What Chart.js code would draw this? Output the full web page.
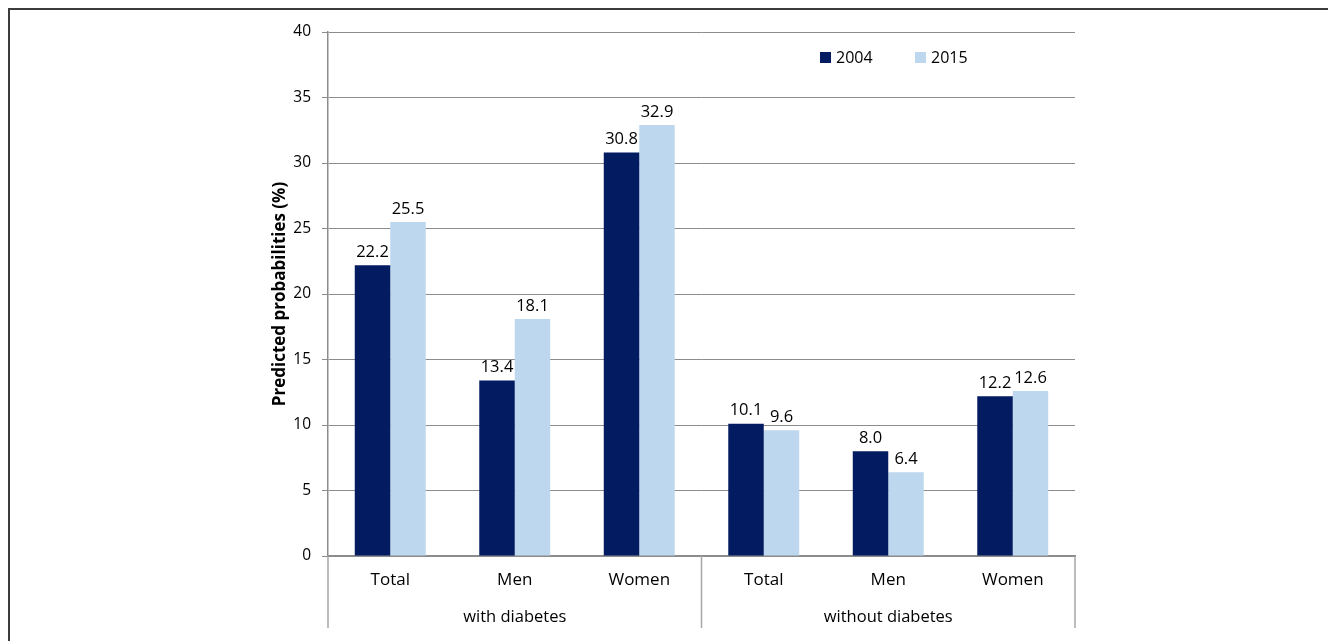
<!DOCTYPE html>
<html>
<head>
<meta charset="utf-8">
<title>Predicted probabilities</title>
<script src="https://cdn.jsdelivr.net/npm/chart.js"></script>
<style>
    html, body { margin: 0; padding: 0; background: #fff; }
    #wrap { position: relative; width: 1328px; height: 641px; overflow: hidden; }
    #frame {
        position: absolute; left: 8px; top: 8px; right: -4px; bottom: -4px;
        border-top: 2px solid #3c3c3c;
        border-left: 2px solid #3c3c3c;
    }
    canvas { position: absolute; left: 0; top: 0; }
</style>
</head>
<body>
<div id="wrap">
    <div id="frame"></div>
    <canvas id="chart" width="1328" height="641"></canvas>
</div>
<script>
    const categories = ["Total", "Men", "Women", "Total", "Men", "Women"];
    const groups = ["with diabetes", "without diabetes"];
    const groupSize = 3;
    const years = ["2004", "2015"];
    const values2004 = [22.2, 13.4, 30.8, 10.1, 8.0, 12.2];
    const values2015 = [25.5, 18.1, 32.9, 9.6, 6.4, 12.6];
    const yTitle = "Predicted probabilities (%)";

    const DARK = "#031B60";
    const LIGHT = "#BDD7EE";
    const FONT = "'Open Sans', 'Noto Sans', sans-serif";

    // value labels on top of the bars
    const barLabels = {
        id: "barLabels",
        afterDatasetsDraw(chart) {
            const ctx = chart.ctx;
            ctx.save();
            ctx.font = "16.5px " + FONT;
            ctx.fillStyle = "#000";
            ctx.textAlign = "center";
            ctx.textBaseline = "middle";
            chart.data.datasets.forEach((ds, i) => {
                chart.getDatasetMeta(i).data.forEach((bar, j) => {
                    ctx.fillText(ds.data[j].toFixed(1), bar.x, bar.y - 13);
                });
            });
            ctx.restore();
        }
    };

    // second level of the category axis + separators
    const groupAxis = {
        id: "groupAxis",
        afterDraw(chart) {
            const ctx = chart.ctx;
            const x = chart.scales.x;
            const area = chart.chartArea;
            const step = x.getPixelForValue(1) - x.getPixelForValue(0);
            ctx.save();
            ctx.strokeStyle = "#a6a6a6";
            ctx.lineWidth = 1.5;
            for (let g = 0; g <= groups.length; g++) {
                const px = x.getPixelForValue(0) - step / 2 + g * groupSize * step;
                ctx.beginPath();
                ctx.moveTo(px, area.bottom);
                ctx.lineTo(px, area.bottom + 72);
                ctx.stroke();
            }
            ctx.font = "16.5px " + FONT;
            ctx.fillStyle = "#000";
            ctx.textAlign = "center";
            ctx.textBaseline = "middle";
            groups.forEach((name, g) => {
                const a = x.getPixelForValue(g * groupSize);
                const b = x.getPixelForValue(g * groupSize + groupSize - 1);
                ctx.fillText(name, (a + b) / 2, area.bottom + 61);
            });
            ctx.restore();
        }
    };

    // legend inside the plot, upper right
    const insideLegend = {
        id: "insideLegend",
        afterDraw(chart) {
            const ctx = chart.ctx;
            const area = chart.chartArea;
            ctx.save();
            ctx.font = "16px " + FONT;
            ctx.textBaseline = "middle";
            ctx.textAlign = "left";
            chart.data.datasets.forEach((ds, i) => {
                const bx = area.left + 492 + i * 95;
                const by = area.top + 20;
                ctx.fillStyle = ds.backgroundColor;
                ctx.fillRect(bx, by, 11, 11);
                ctx.fillStyle = "#000";
                ctx.fillText(ds.label, bx + 16, by + 6);
            });
            ctx.restore();
        }
    };

    new Chart(document.getElementById("chart"), {
        type: "bar",
        data: {
            labels: categories,
            datasets: [
                { label: years[0], data: values2004, backgroundColor: DARK },
                { label: years[1], data: values2015, backgroundColor: LIGHT }
            ]
        },
        options: {
            responsive: false,
            animation: false,
            devicePixelRatio: 1,
            layout: { padding: { left: 263, right: 253, top: 32, bottom: 0 } },
            datasets: { bar: { categoryPercentage: 0.57, barPercentage: 1.0 } },
            plugins: {
                legend: { display: false },
                tooltip: { enabled: false }
            },
            scales: {
                x: {
                    grid: { display: false, drawTicks: false },
                    border: { display: true, color: "#8c8c8c", width: 2 },
                    ticks: { color: "#000", font: { family: FONT, size: 17 }, padding: 14, maxRotation: 0 },
                    afterFit: s => { s.height = 85; }
                },
                y: {
                    min: 0,
                    max: 40,
                    ticks: { stepSize: 5, color: "#000", font: { family: FONT, size: 15.5 }, padding: 11 },
                    grid: { color: "#8c8c8c", lineWidth: 1, drawTicks: true, tickLength: 6, tickColor: "#8c8c8c" },
                    border: { display: true, color: "#8c8c8c", width: 1.5 },
                    title: {
                        display: true,
                        text: yTitle,
                        color: "#000",
                        font: { family: FONT, size: 17, weight: "bold" },
                        padding: { top: 7, bottom: 0 }
                    },
                    afterFit: s => { s.width = 65; }
                }
            }
        },
        plugins: [barLabels, groupAxis, insideLegend]
    });
</script>
</body>
</html>
